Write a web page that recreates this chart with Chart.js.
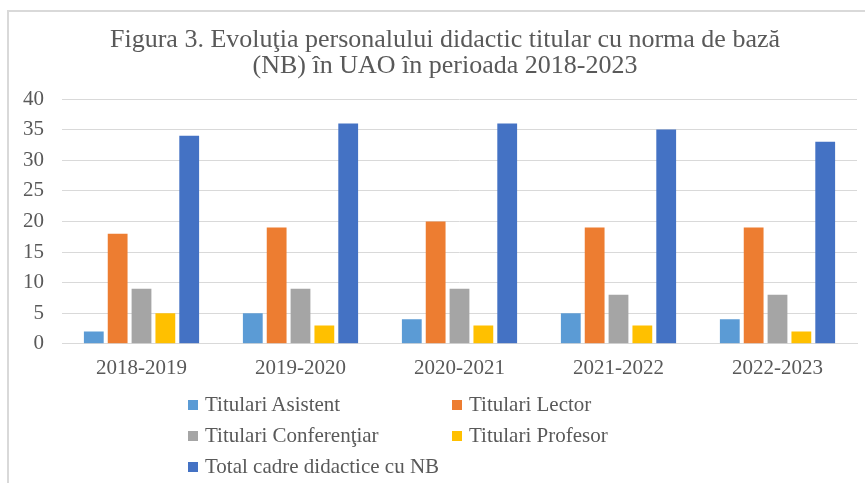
<!DOCTYPE html>
<html>
<head>
<meta charset="utf-8">
<script src="https://cdn.jsdelivr.net/npm/chart.js@4.4.1/dist/chart.umd.min.js"></script>
<style>
  body { margin: 0; background: #fff; }
  #wrap { position: relative; width: 865px; height: 483px; overflow: hidden; }
  #frame { position: absolute; left: 7px; top: 10px; width: 880px; height: 500px; border: 2px solid #d9d9d9; box-sizing: border-box; }
  #c { position: absolute; left: 0; top: 0; }
  #legend { position: absolute; left: 188px; top: 389px; display: grid; grid-template-columns: 264px 264px; row-gap: 0; font-family: "Liberation Serif", serif; font-size: 21px; color: #595959; }
  #legend div { height: 31px; line-height: 31px; white-space: nowrap; }
  #legend span { display: inline-block; width: 10px; height: 10px; margin-right: 7px; vertical-align: 1px; }
</style>
</head>
<body>
<div id="wrap">
  <div id="frame"></div>
  <canvas id="c" width="865" height="400"></canvas>
  <div id="legend"></div>
</div>
<script>
const categorii = ['2018-2019', '2019-2020', '2020-2021', '2021-2022', '2022-2023'];
const asistent = [2, 5, 4, 5, 4];
const lector = [18, 19, 20, 19, 19];
const conferentiar = [9, 9, 9, 8, 8];
const profesor = [5, 3, 3, 3, 2];
const totalNB = [34, 36, 36, 35, 33];
const serii = ['Titulari Asistent', 'Titulari Lector', 'Titulari Conferenţiar', 'Titulari Profesor', 'Total cadre didactice cu NB'];
const culori = ['#5B9BD5', '#ED7D31', '#A5A5A5', '#FFC000', '#4472C4'];

const valori = [asistent, lector, conferentiar, profesor, totalNB];
const font = 'Liberation Serif';

const chart = new Chart(document.getElementById('c'), {
  type: 'bar',
  data: {
    labels: categorii,
    datasets: valori.map((v, i) => ({
      label: serii[i],
      data: v,
      backgroundColor: culori[i],
      barPercentage: 0.83,
      categoryPercentage: 0.75
    }))
  },
  options: {
    responsive: false,
    animation: false,
    layout: { padding: { left: 33, right: 8, top: 0, bottom: 15 } },
    plugins: {
      legend: { display: false },
      tooltip: { enabled: false },
      title: {
        display: true,
        text: ['Figura 3. Evoluţia personalului didactic titular cu norma de bază', '(NB) în UAO în perioada 2018-2023'],
        color: '#595959',
        font: { family: font, size: 26, weight: 'normal', lineHeight: 1.0 },
        padding: { top: 27, bottom: 20 }
      }
    },
    scales: {
      x: {
        grid: { display: false },
        border: { color: '#d9d9d9' },
        ticks: { color: '#595959', font: { family: font, size: 21 }, padding: 4 }
      },
      y: {
        min: 0,
        max: 40,
        afterFit: s => { s.width = 29; },
        // etichete trase in stanga axei, aliniate la dreapta (x = 44)
        ticks: { stepSize: 5, color: '#595959', font: { family: font, size: 21 }, mirror: true, crossAlign: 'far', padding: -39 },
        grid: { color: '#d9d9d9', drawTicks: false },
        border: { display: false }
      }
    }
  }
});

const leg = document.getElementById('legend');
chart.data.datasets.forEach(ds => {
  const d = document.createElement('div');
  const s = document.createElement('span');
  s.style.background = ds.backgroundColor;
  d.appendChild(s);
  d.appendChild(document.createTextNode(ds.label));
  leg.appendChild(d);
});
</script>
</body>
</html>
